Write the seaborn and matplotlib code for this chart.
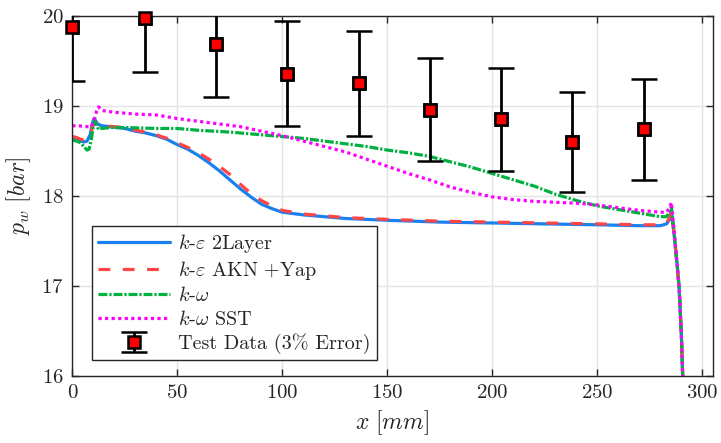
import numpy as np
import pandas as pd
import matplotlib
matplotlib.use("Agg")
import matplotlib.pyplot as plt
import seaborn as sns

# ---------------- data ----------------
x_2layer = [0, 2, 4, 5.5, 7, 8.5, 9.5, 10.3, 11, 12, 14, 18, 25, 30, 35, 40, 45, 50, 55, 60,
            65, 70, 75, 80, 85, 90, 95, 100, 110, 120, 130, 150, 175, 200, 225, 250, 270,
            280, 283, 284.5, 285.3, 286.5, 288, 289, 290, 290.7, 291.3]
y_2layer = [18.64, 18.63, 18.61, 18.60, 18.61, 18.68, 18.80, 18.86, 18.84, 18.80, 18.78, 18.77,
            18.75, 18.72, 18.70, 18.67, 18.63, 18.57, 18.52, 18.45, 18.37, 18.28, 18.18, 18.08,
            17.99, 17.91, 17.86, 17.82, 17.79, 17.77, 17.75, 17.73, 17.71, 17.70, 17.69, 17.68,
            17.67, 17.67, 17.69, 17.74, 17.83, 17.60, 17.25, 16.98, 16.50, 16.00, 15.60]

x_akn = [0, 2, 4, 5.5, 7, 8.5, 9.5, 10.5, 11.5, 13, 15, 20, 25, 30, 35, 40, 45, 50, 55, 60,
         65, 70, 75, 80, 85, 90, 95, 100, 110, 120, 130, 150, 175, 200, 225, 250, 270,
         280, 283, 284.5, 285.3, 286.5, 288, 289, 290, 290.7, 291.3]
y_akn = [18.66, 18.65, 18.63, 18.62, 18.63, 18.68, 18.76, 18.81, 18.81, 18.79, 18.78, 18.77,
         18.76, 18.73, 18.71, 18.68, 18.64, 18.59, 18.54, 18.48, 18.41, 18.33, 18.24, 18.13,
         18.03, 17.95, 17.89, 17.84, 17.80, 17.78, 17.76, 17.74, 17.72, 17.71, 17.70, 17.69,
         17.68, 17.68, 17.70, 17.76, 17.84, 17.60, 17.25, 16.98, 16.50, 16.00, 15.60]

x_kw = [0, 2, 4, 5.5, 7, 8, 9, 10, 10.7, 11.5, 12.5, 14, 18, 25, 40, 50, 60, 75, 90, 100,
        110, 120, 130, 140, 150, 160, 170, 180, 190, 200, 210, 220, 230, 240, 250, 260, 270,
        280, 283, 284.5, 285.3, 286.5, 288, 289, 290, 290.7, 291.3]
y_kw = [18.62, 18.61, 18.59, 18.55, 18.51, 18.52, 18.62, 18.78, 18.83, 18.79, 18.74, 18.75,
        18.76, 18.76, 18.75, 18.75, 18.73, 18.71, 18.68, 18.66, 18.64, 18.61, 18.58, 18.55,
        18.51, 18.48, 18.44, 18.38, 18.32, 18.25, 18.18, 18.11, 18.02, 17.95, 17.89, 17.85,
        17.81, 17.77, 17.77, 17.82, 17.88, 17.62, 17.25, 16.98, 16.50, 16.00, 15.60]

x_sst = [0, 3, 6, 9, 10.5, 11.5, 12.5, 14, 20, 30, 40, 50, 60, 70, 80, 90, 100, 110, 120,
         130, 140, 150, 160, 170, 180, 190, 200, 210, 220, 230, 240, 250, 260, 270, 280,
         283, 284.5, 285.3, 286.5, 288, 289, 290, 290.7, 291.3]
y_sst = [18.78, 18.78, 18.77, 18.77, 18.85, 18.94, 18.99, 18.95, 18.93, 18.91, 18.90, 18.86,
         18.83, 18.80, 18.77, 18.72, 18.67, 18.61, 18.55, 18.49, 18.41, 18.33, 18.25, 18.18,
         18.10, 18.04, 17.99, 17.96, 17.94, 17.93, 17.92, 17.90, 17.87, 17.84, 17.82,
         17.82, 17.87, 17.93, 17.64, 17.25, 16.98, 16.50, 16.00, 15.60]

x_test = [0, 34.5, 68.4, 102.3, 136.6, 170.2, 204.3, 237.9, 272.2]
y_test = [19.88, 19.98, 19.69, 19.36, 19.25, 18.96, 18.85, 18.60, 18.74]
err_test = [0.60, 0.60, 0.59, 0.58, 0.58, 0.57, 0.57, 0.56, 0.56]

labels = [r"$k$-$\varepsilon$ 2Layer", r"$k$-$\varepsilon$ AKN +Yap",
          r"$k$-$\omega$", r"$k$-$\omega$ SST", "Test Data (3% Error)"]

# ---------------- style ----------------
sns.set_style("ticks")
plt.rcParams.update({
    "font.family": "serif",
    "font.serif": ["cmr10", "DejaVu Serif"],
    "mathtext.fontset": "cm",
    "axes.unicode_minus": False,
    "axes.formatter.use_mathtext": True,
    "xtick.direction": "in",
    "ytick.direction": "in",
    "xtick.top": True,
    "ytick.right": True,
})

fig = plt.figure(figsize=(7.21, 4.43), dpi=100)
ax = fig.add_axes([0.1003, 0.1512, 0.8882, 0.8128])

lw = 2.3
series = [
    (x_2layer, y_2layer, labels[0], "#1a80f0", "-"),
    (x_akn, y_akn, labels[1], "#ff4545", (0, (3.7, 3.9))),
    (x_kw, y_kw, labels[2], "#00b040", (0, (2.8, 0.6, 0.7, 0.6))),
    (x_sst, y_sst, labels[3], "#ff00ff", (0, (1.0, 1.05))),
]
for xs, ys, lab, col, ls in series:
    df = pd.DataFrame({"x": xs, "y": ys})
    sns.lineplot(data=df, x="x", y="y", ax=ax, sort=False, estimator=None,
                 color=col, linestyle=ls, linewidth=lw, label=lab)

eb = ax.errorbar(x_test, y_test, yerr=err_test, fmt="s", color="black",
                 ecolor="black", elinewidth=2.0, capsize=9.5, capthick=2.0,
                 markersize=8.5, markerfacecolor="#ff0000", markeredgecolor="black",
                 markeredgewidth=1.8, label=labels[4], zorder=5)
# markers unclipped on top (as in the reference the top marker overlaps the frame)
ax.plot(x_test, y_test, "s", markersize=8.5, markerfacecolor="#ff0000",
        markeredgecolor="black", markeredgewidth=1.8, clip_on=False, zorder=6)

ax.set_xlim(0, 305)
ax.set_ylim(16, 20)
ax.set_xticks([0, 50, 100, 150, 200, 250, 300])
ax.set_yticks([16, 17, 18, 19, 20])
ax.grid(True, color="#e3e3e3", linewidth=1.0)
ax.set_axisbelow(True)
for sp in ax.spines.values():
    sp.set_color("#262626")
    sp.set_linewidth(1.0)
ax.tick_params(axis="both", labelsize=15, length=5, width=1.0, color="#262626", pad=6)

ax.set_xlabel(r"$x\ [mm]$", fontsize=17, labelpad=4)
ax.set_ylabel(r"$p_w\ [bar]$", fontsize=17, labelpad=6)

handles, labs = ax.get_legend_handles_labels()
leg = ax.legend(handles, labs, loc="lower left", bbox_to_anchor=(0.03, 0.044),
                borderaxespad=0, fontsize=14.5, handlelength=3.6, handletextpad=0.4,
                labelspacing=0.22, frameon=True, fancybox=False, edgecolor="#262626",
                framealpha=1.0, borderpad=0.3)
leg.get_frame().set_linewidth(1.0)

fig.savefig("out.png", dpi=100)
